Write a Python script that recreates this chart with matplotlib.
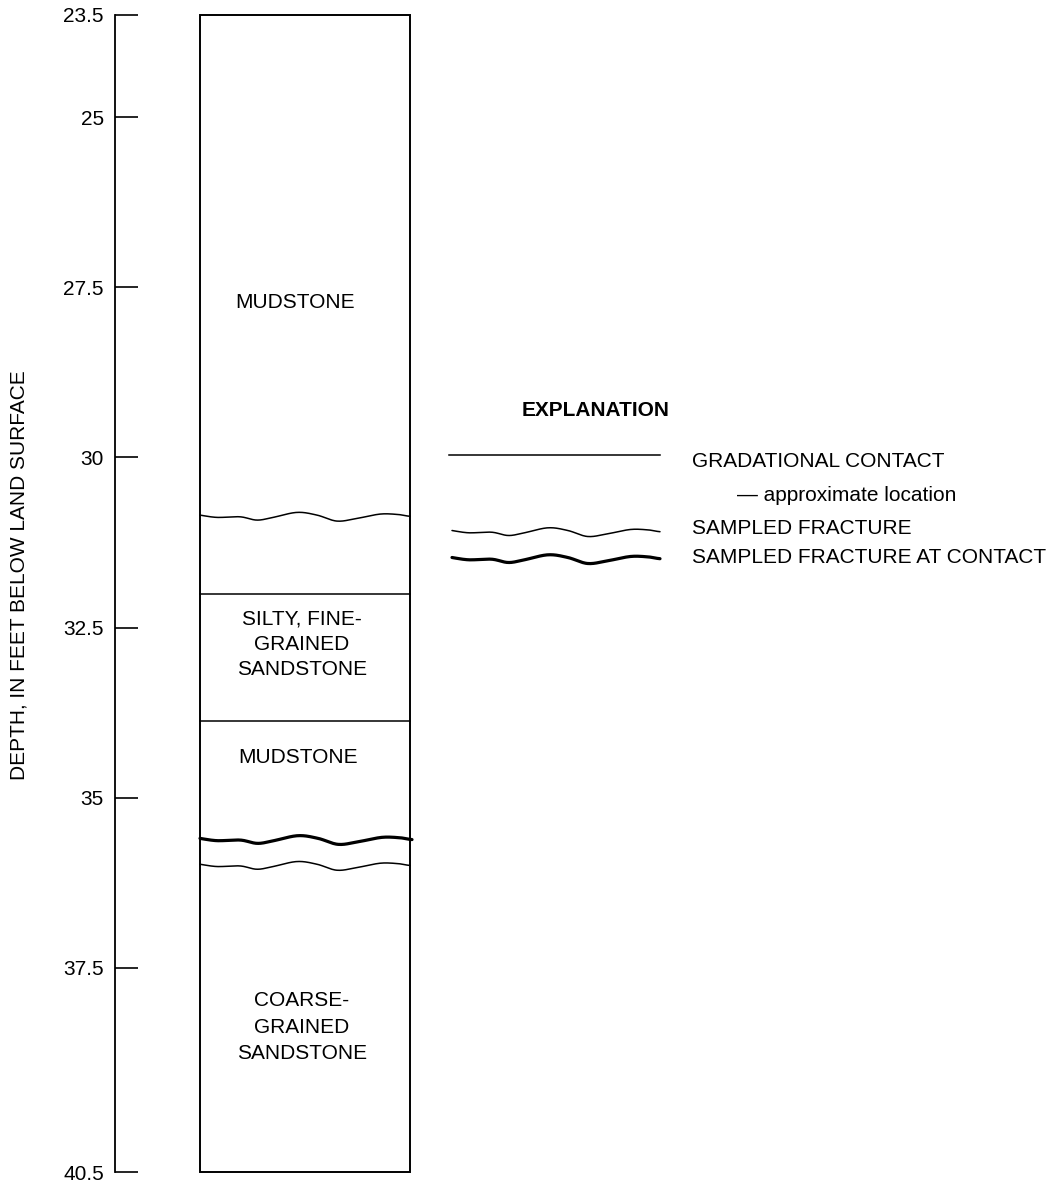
import numpy as np
import matplotlib
matplotlib.use("Agg")
import matplotlib.pyplot as plt
from matplotlib.patches import Rectangle

plt.rcParams['font.family'] = ['Liberation Sans', 'DejaVu Sans']

# ---- core log data (depths in feet below land surface) ----
column_top = 23.5
column_bottom = 40.5
tick_values = [23.5, 25, 27.5, 30, 32.5, 35, 37.5, 40.5]
tick_labels = ["23.5", "25", "27.5", "30", "32.5", "35", "37.5", "40.5"]

gradational_contacts = [32.0, 33.87]
sampled_fractures = [30.87, 36.0]
fractures_at_contact = [35.62]

unit_names = ["MUDSTONE",
              "SILTY, FINE-\nGRAINED\nSANDSTONE",
              "MUDSTONE",
              "COARSE-\nGRAINED\nSANDSTONE"]
unit_label_depths = [27.73, 32.75, 34.41, 38.37]

legend_items = ["GRADATIONAL CONTACT",
                "\u2014 approximate location",
                "SAMPLED FRACTURE",
                "SAMPLED FRACTURE AT CONTACT"]

# ---- figure geometry (pixels) ----
W, H = 1058, 1185
FS = 15
fig = plt.figure(figsize=(W / 100, H / 100), dpi=100)

ax_left, ax_top, ax_bottom = 115, 15, 1172
ax = fig.add_axes([ax_left / W, (H - ax_bottom) / H,
                   (W - ax_left) / W, (ax_bottom - ax_top) / H])
ax.set_facecolor('none')
ax.set_xlim(0, 1)
ax.set_ylim(column_bottom, column_top)
for s in ('top', 'right', 'bottom'):
    ax.spines[s].set_visible(False)
ax.spines['left'].set_linewidth(1.3)
ax.set_xticks([])
ax.set_yticks(tick_values)
ax.set_yticklabels(tick_labels)
ax.tick_params(axis='y', direction='in', length=16.5, width=1.2,
               pad=8, labelsize=FS)

# column horizontal extent in axes units
def px_to_ax(x):
    return (x - ax_left) / (W - ax_left)

col_x0, col_x1 = px_to_ax(200), px_to_ax(410)
ax.add_patch(Rectangle((col_x0, column_top), col_x1 - col_x0,
                       column_bottom - column_top, fill=False,
                       lw=1.4, ec='black', clip_on=False))

for d in gradational_contacts:
    ax.plot([col_x0, col_x1], [d, d], color='black', lw=1.1)

# wavy fracture outline: fraction along width, vertical offset in pixels
wave_fx = np.array([0.0, 0.081, 0.19, 0.271, 0.348, 0.462, 0.557,
                    0.652, 0.748, 0.857, 0.938, 0.981, 1.0])
wave_dy = np.array([-1.5, 0.8, 0.2, 3.5, 0.8, -4.2, -1.5,
                    4.5, 1.8, -2.5, -2.2, -0.8, -0.3])


def smooth(px, py, n=20):
    """Catmull-Rom curve through the given points."""
    P = np.column_stack([px, py])
    P = np.vstack([P[0], P, P[-1]])
    out = []
    t = np.linspace(0, 1, n, endpoint=False)[:, None]
    for i in range(1, len(P) - 2):
        p0, p1, p2, p3 = P[i - 1], P[i], P[i + 1], P[i + 2]
        seg = 0.5 * ((2 * p1) + (-p0 + p2) * t +
                     (2 * p0 - 5 * p1 + 4 * p2 - p3) * t ** 2 +
                     (-p0 + 3 * p1 - 3 * p2 + p3) * t ** 3)
        out.append(seg)
    out.append(P[-2][None, :])
    out = np.vstack(out)
    return out[:, 0], out[:, 1]


px_per_ft = (ax_bottom - ax_top) / (column_bottom - column_top)


def fracture(depth, x0, x1, lw):
    xs, ys = smooth(x0 + wave_fx * (x1 - x0), depth + wave_dy / px_per_ft)
    ax.plot(xs, ys, color='black', lw=lw, solid_capstyle='round',
            clip_on=False)


for d in sampled_fractures:
    fracture(d, col_x0, col_x1, 1.1)
for d in fractures_at_contact:
    fracture(d, col_x0, px_to_ax(412), 2.3)

label_x = [px_to_ax(295), px_to_ax(302), px_to_ax(298), px_to_ax(302)]
label_spacing = [1.2, 1.42, 1.2, 1.52]
for name, d, x, ls in zip(unit_names, unit_label_depths, label_x, label_spacing):
    ax.text(x, d, name, ha='center', va='center', multialignment='center',
            fontsize=FS, linespacing=ls)

# ---- overlay in pixel coordinates for the title block and explanation ----
ov = fig.add_axes([0, 0, 1, 1], zorder=-1)
ov.set_xlim(0, W)
ov.set_ylim(H, 0)
ov.axis('off')

ov.text(19, 575, "DEPTH, IN FEET BELOW LAND SURFACE", rotation=90,
        ha='center', va='center', fontsize=FS)

ov.text(596, 410, "EXPLANATION", ha='center', va='center',
        fontsize=FS, fontweight='bold')
ov.plot([449, 660], [455, 455], color='black', lw=1.1)


def legend_wave(yc, lw):
    xs, ys = smooth(452 + wave_fx * (660 - 452), yc + wave_dy)
    ov.plot(xs, ys, color='black', lw=lw, solid_capstyle='round')


legend_wave(532, 1.1)
legend_wave(559, 2.3)

ov.text(692, 467, legend_items[0], ha='left', va='baseline', fontsize=FS)
ov.text(737, 501, legend_items[1], ha='left', va='baseline', fontsize=FS)
ov.text(692, 534, legend_items[2], ha='left', va='baseline', fontsize=FS)
ov.text(692, 563, legend_items[3], ha='left', va='baseline', fontsize=FS)

fig.savefig("out.png", dpi=100, facecolor='white')
